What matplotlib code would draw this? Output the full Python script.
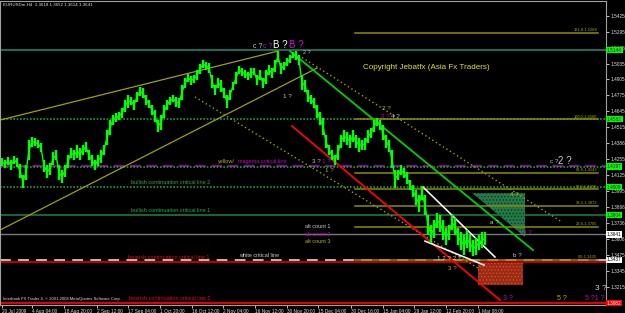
import numpy as np
import matplotlib.pyplot as plt
from matplotlib.patches import Polygon, Rectangle

plt.rcParams['font.family'] = ['Liberation Sans', 'DejaVu Sans']
plt.rcParams['hatch.linewidth'] = 0.6

# ── chart window (EURUSDm, H4) ────────────────────────────────────────────────
P_TOP, P_BOT = 1.5545, 1.3066
X_MAX = 606

# high / low of each price slot (3 px per slot)
bar_hi = [1.4264, 1.4248, 1.4272, 1.4248, 1.4281, 1.4264, 1.4215, 1.4126, 1.4207, 1.4411,
          1.4436, 1.4428, 1.4411, 1.4387, 1.4248, 1.4207, 1.4224, 1.4313, 1.4330, 1.4207,
          1.4166, 1.4207, 1.4289, 1.4346, 1.4330, 1.4370, 1.4346, 1.4370, 1.4395, 1.4330,
          1.4289, 1.4248, 1.4289, 1.4330, 1.4370, 1.4493, 1.4574, 1.4615, 1.4631, 1.4640,
          1.4672, 1.4737, 1.4778, 1.4762, 1.4737, 1.4803, 1.4843, 1.4835, 1.4778, 1.4737,
          1.4697, 1.4656, 1.4574, 1.4615, 1.4697, 1.4737, 1.4762, 1.4778, 1.4762, 1.4754,
          1.4860, 1.4917, 1.4949, 1.4933, 1.4941, 1.4982, 1.5031, 1.5064, 1.5047, 1.5039,
          1.4941, 1.4860, 1.4917, 1.4901, 1.4835, 1.4778, 1.4819, 1.4884, 1.4966, 1.5015,
          1.4998, 1.4982, 1.4966, 1.4998, 1.4998, 1.4941, 1.4982, 1.4917, 1.4982, 1.5023,
          1.4998, 1.5064, 1.5137, 1.5039, 1.5047, 1.5080, 1.5104, 1.5129, 1.5137, 1.5104,
          1.4941, 1.4901, 1.4819, 1.4778, 1.4754, 1.4697, 1.4640, 1.4591, 1.4452, 1.4370,
          1.4330, 1.4289, 1.4370, 1.4452, 1.4493, 1.4477, 1.4452, 1.4493, 1.4452, 1.4428,
          1.4411, 1.4428, 1.4493, 1.4509, 1.4574, 1.4591, 1.4574, 1.4534, 1.4452, 1.4411,
          1.4330, 1.4166, 1.4166, 1.4207, 1.4183, 1.4150, 1.4085, 1.4044, 1.4003, 1.3963,
          1.4036, 1.3963, 1.3799, 1.3718, 1.3759, 1.3816, 1.3799, 1.3759, 1.3693, 1.3718,
          1.3799, 1.3775, 1.3693, 1.3661, 1.3636, 1.3677, 1.3636, 1.3596, 1.3612, 1.3636,
          1.3661, 1.3661]
bar_lo = [1.4199, 1.4183, 1.4207, 1.4166, 1.4215, 1.4191, 1.4101, 1.4020, 1.4085, 1.4248,
          1.4354, 1.4362, 1.4346, 1.4313, 1.4150, 1.4101, 1.4126, 1.4207, 1.4248, 1.4085,
          1.4060, 1.4109, 1.4183, 1.4264, 1.4248, 1.4264, 1.4248, 1.4289, 1.4313, 1.4248,
          1.4199, 1.4166, 1.4199, 1.4224, 1.4289, 1.4370, 1.4452, 1.4534, 1.4558, 1.4574,
          1.4591, 1.4640, 1.4672, 1.4697, 1.4656, 1.4721, 1.4770, 1.4754, 1.4697, 1.4672,
          1.4615, 1.4558, 1.4477, 1.4493, 1.4591, 1.4656, 1.4697, 1.4721, 1.4680, 1.4672,
          1.4737, 1.4835, 1.4884, 1.4860, 1.4876, 1.4901, 1.4949, 1.4998, 1.4982, 1.4958,
          1.4835, 1.4778, 1.4835, 1.4803, 1.4754, 1.4672, 1.4737, 1.4819, 1.4868, 1.4949,
          1.4933, 1.4917, 1.4901, 1.4917, 1.4941, 1.4860, 1.4901, 1.4835, 1.4868, 1.4941,
          1.4917, 1.4966, 1.5047, 1.4949, 1.4982, 1.5015, 1.5039, 1.5080, 1.5064, 1.5023,
          1.4819, 1.4803, 1.4721, 1.4705, 1.4672, 1.4591, 1.4534, 1.4452, 1.4346, 1.4289,
          1.4248, 1.4207, 1.4248, 1.4346, 1.4395, 1.4370, 1.4346, 1.4395, 1.4346, 1.4313,
          1.4330, 1.4330, 1.4387, 1.4428, 1.4477, 1.4525, 1.4493, 1.4411, 1.4346, 1.4313,
          1.4183, 1.4020, 1.4085, 1.4126, 1.4101, 1.4052, 1.4003, 1.3946, 1.3881, 1.3824,
          1.3922, 1.3799, 1.3636, 1.3571, 1.3612, 1.3693, 1.3661, 1.3596, 1.3555, 1.3596,
          1.3677, 1.3636, 1.3555, 1.3514, 1.3473, 1.3530, 1.3498, 1.3465, 1.3473, 1.3514,
          1.3530, 1.3555]
bar_x = np.arange(2, 2 + 3 * len(bar_hi), 3)

axis_prices = [1.5425, 1.5295, 1.5165, 1.5035, 1.4905, 1.4775, 1.4645, 1.4515, 1.4386,
               1.4255, 1.4125, 1.3995, 1.3866, 1.3736, 1.3606, 1.3475, 1.3345, 1.3215]
time_labels = ['20 Jul 2009', '4 Aug 04:00', '18 Aug 20:00', '2 Sep 12:00', '17 Sep 04:00',
               '1 Oct 20:00', '16 Oct 12:00', '2 Nov 04:00', '16 Nov 12:00', '30 Nov 20:00',
               '15 Dec 04:00', '30 Dec 16:00', '15 Jan 04:00', '29 Jan 12:00', '12 Feb 20:00',
               '1 Mar 08:00']
time_pos = [2, 32, 64, 97, 128, 160, 192, 223, 255, 287, 318, 351, 383, 414, 446, 478]

# horizontal levels
teal_level = 1.5144
green_100 = 1.4582
magenta_level = 1.4203
green_yellow = 1.4194
bullish_2 = 1.4028
bullish_1 = 1.3799
price_now = 1.3641
white_level = 1.3434
bearish_1 = 1.3416
bearish_2 = 1.3082

fib_names = ['161.8-1.5288', '100.0-1.4580', '61.8-1.4143', '50.0-1.4008',
             '38.2-1.3872', '23.6-1.3705', '0.0-1.3435']
fib_prices = [1.5288, 1.4580, 1.4143, 1.4008, 1.3872, 1.3705, 1.3435]
FIB_X0, FIB_X1 = 355, 598

# trend lines: (x0, x1), (p0, p1)
upper_chan = ([0, 278], [1.4574, 1.5137])
lower_chan = ([0, 317], [1.3677, 1.4998])
dot_upper = ([295, 562], [1.5121, 1.3742])
dot_lower = ([195, 478], [1.4762, 1.3367])
green_line = ([290, 533], [1.5137, 1.3514])
red_line = ([292, 500], [1.4525, 1.3106])
white_up = ([423, 495], [1.4028, 1.3457])
white_lo = ([425, 484], [1.3587, 1.3392])

# target zones
green_zone_x = [472, 525, 525]
green_zone_p = [1.3979, 1.3979, 1.3620]
red_zone = (478, 523, 1.3228, 1.3408)

# right-axis price markers (price, text, background, text colour)
markers = [(teal_level, '1.5144', '#00ff00', '#003000'),
           (green_100, '1.4582', '#00ff00', '#003000'),
           (green_yellow, '1.4197', '#00ff00', '#003000'),
           (bullish_2, '1.4009', '#00ff00', '#003000'),
           (bullish_1, '1.3804', '#00ff00', '#003000'),
           (price_now, '1.3641', '#ffffff', '#000000'),
           (white_level, '1.3437', '#ffffff', '#000000'),
           (bearish_2, '1.3082', '#ff0000', '#ffffff')]

OLIVE = '#b4b400'
MAG = '#c000c0'
GREY = '#c8c8c8'

fig = plt.figure(figsize=(6.25, 3.13), dpi=100, facecolor='black')
ax = fig.add_axes([0, 8 / 313, X_MAX / 625, 304 / 313], facecolor='black')
ax.set_xlim(0, X_MAX)
ax.set_ylim(P_BOT, P_TOP)


def yp(py):
    # screen row -> price, only used to place the free text labels
    return P_TOP - (py - 1) * (P_TOP - P_BOT) / 304


# full-width levels
ax.axhline(teal_level, color='#147a62', lw=1.3)
ax.axhline(green_100, color='#1f9a3f', lw=1.2, ls=(0, (1, 1)))
ax.axhline(magenta_level, color='#a000b0', lw=1.3, ls=(0, (6, 3)))
ax.axhline(green_yellow, color='#1f9a3f', lw=1.2, ls=(0, (1, 1)))
ax.axhline(bullish_2, color='#1f9a3f', lw=1.2, ls=(0, (1, 1)))
ax.axhline(bullish_1, color='#1a7a35', lw=1.2)
ax.axhline(price_now, color='#7a7a7a', lw=1.0)
ax.axhline(white_level, color='#c8c8c8', lw=1.3, ls=(0, (6, 4)))
ax.axhline(bearish_1, color='#e00000', lw=1.2)
ax.axhline(bearish_2, color='#e00000', lw=1.6)

# fibonacci levels
for name, p in zip(fib_names, fib_prices):
    ax.plot([FIB_X0, FIB_X1], [p, p], color='#8c8c00', lw=1.1)
    ax.text(FIB_X1 - 1, p + 0.0006, name, color='#a8a800', fontsize=2.9,
            ha='right', va='bottom')

# zones
ax.add_patch(Polygon(list(zip(green_zone_x, green_zone_p)), closed=True,
                     facecolor='#247a4a', edgecolor='#0c3a1e', hatch='.....', lw=0))
ax.add_patch(Rectangle((red_zone[0], red_zone[2]), red_zone[1] - red_zone[0],
                       red_zone[3] - red_zone[2], facecolor='#9a2a12',
                       edgecolor='#d05030', hatch='.....', lw=0))

# trend lines
ax.plot(*upper_chan, color='#a0a000', lw=0.9)
ax.plot(*lower_chan, color='#a0a000', lw=0.9)
ax.plot(*dot_upper, color='#a0a000', lw=1.0, ls=(0, (1, 2)))
ax.plot(*dot_lower, color='#a0a000', lw=1.0, ls=(0, (1, 2)))
ax.plot(*green_line, color='#00d000', lw=1.3)
ax.plot(*red_line, color='#ff0000', lw=1.3)
ax.plot(*white_up, color='#f0f0f0', lw=1.2)
ax.plot(*white_lo, color='#f0f0f0', lw=1.2)

# price bars
mid = (np.array(bar_hi) + np.array(bar_lo)) / 2
ax.plot(bar_x, mid, color='#00ff00', lw=1.0)
ax.vlines(bar_x, bar_lo, bar_hi, color='#00ff00', lw=1.7)

# free text labels
labels = [
    (253, 46, 'c ?', GREY, 5), (263, 46, 'c ?', MAG, 5), (273, 45, 'B ?', '#ffffff', 7),
    (289, 45, 'B ?', '#e000e0', 7), (303, 53, '2 ?', GREY, 4), (283, 97, '1 ?', GREY, 4.5),
    (382, 108, '2 ?', OLIVE, 4.5), (381, 117, '2 ?', MAG, 4.5), (391, 117, '4 ?', GREY, 4.5),
    (312, 162, '3 ?', GREY, 4.5), (322, 162, '1 ?', MAG, 4.5), (325, 171, '1 ?', OLIVE, 4.5),
    (550, 162, 'c ?', GREY, 4.5), (558, 161, '2 ?', GREY, 7), (510, 195, '4 ?', OLIVE, 4.5),
    (490, 222, 'a ?', GREY, 4.5), (523, 233, '4 ?', MAG, 4.5), (513, 256, 'b ?', GREY, 4.5),
    (437, 259, '1 2 ? 2 ?', GREY, 4.5), (448, 268, '3 ?', OLIVE, 4.5),
    (503, 298, '3 ?', MAG, 5), (557, 299, '5 ?', OLIVE, 5), (585, 299, '5 ?1 ?', MAG, 5),
    (595, 289, '3 ?', GREY, 6),
    (305, 226, 'alt count 1', GREY, 4), (305, 234, 'alt count 2', MAG, 4),
    (305, 242, 'alt count 3', OLIVE, 4), (239, 256, 'white critical line', GREY, 4),
    (218, 161, 'yellow/', OLIVE, 4), (238, 161, 'magenta critical line', MAG, 4),
]
for x, y, s, c, fs in labels:
    ax.text(x, yp(y), s, color=c, fontsize=fs, ha='left', va='center')

crit = [(183, 'bullish continuation critical line 2', '#20b040'),
        (211, 'bullish continuation critical line 1', '#20b040'),
        (258, 'bearish continuation critical line 1', '#e01010'),
        (299, 'bearish continuation critical line 2', '#e01010')]
for y, s, c in crit:
    ax.text(210, yp(y), s, color=c, fontsize=4, ha='right', va='center')

ax.text(363, yp(68), 'Copyright Jebatfx (Asia Fx Traders)', color='#e6e600',
        fontsize=5.8, ha='left', va='center')
ax.text(3, yp(5), 'EURUSDm,H4  1.3618 1.3652 1.3614 1.3641', color='#e0e0e0',
        fontsize=3.2, ha='left', va='center')
ax.text(3, yp(299), 'Interbank FX Trader 4, \u00a9 2001-2008 MetaQuotes Software Corp.',
        color='#e0e0e0', fontsize=3.0, ha='left', va='center')

# axes
for side in ['left', 'right', 'top', 'bottom']:
    ax.spines[side].set_color('#a0a0a0')
    ax.spines[side].set_linewidth(0.8)
ax.yaxis.tick_right()
ax.set_yticks(axis_prices)
ax.set_yticklabels([f'{p:.4f}' for p in axis_prices])
ax.set_xticks(time_pos)
ax.set_xticklabels(time_labels, ha='left')
ax.tick_params(colors='#e0e0e0', labelsize=3.4, length=2, width=0.6, pad=1)

for p, s, bg, fg in markers:
    ax.text(X_MAX + 1, p, s, color=fg, fontsize=3.4, ha='left', va='center',
            clip_on=False, zorder=5,
            bbox=dict(boxstyle='square,pad=0.15', fc=bg, ec='none'))

fig.savefig('out.png', dpi=100, facecolor='black')
